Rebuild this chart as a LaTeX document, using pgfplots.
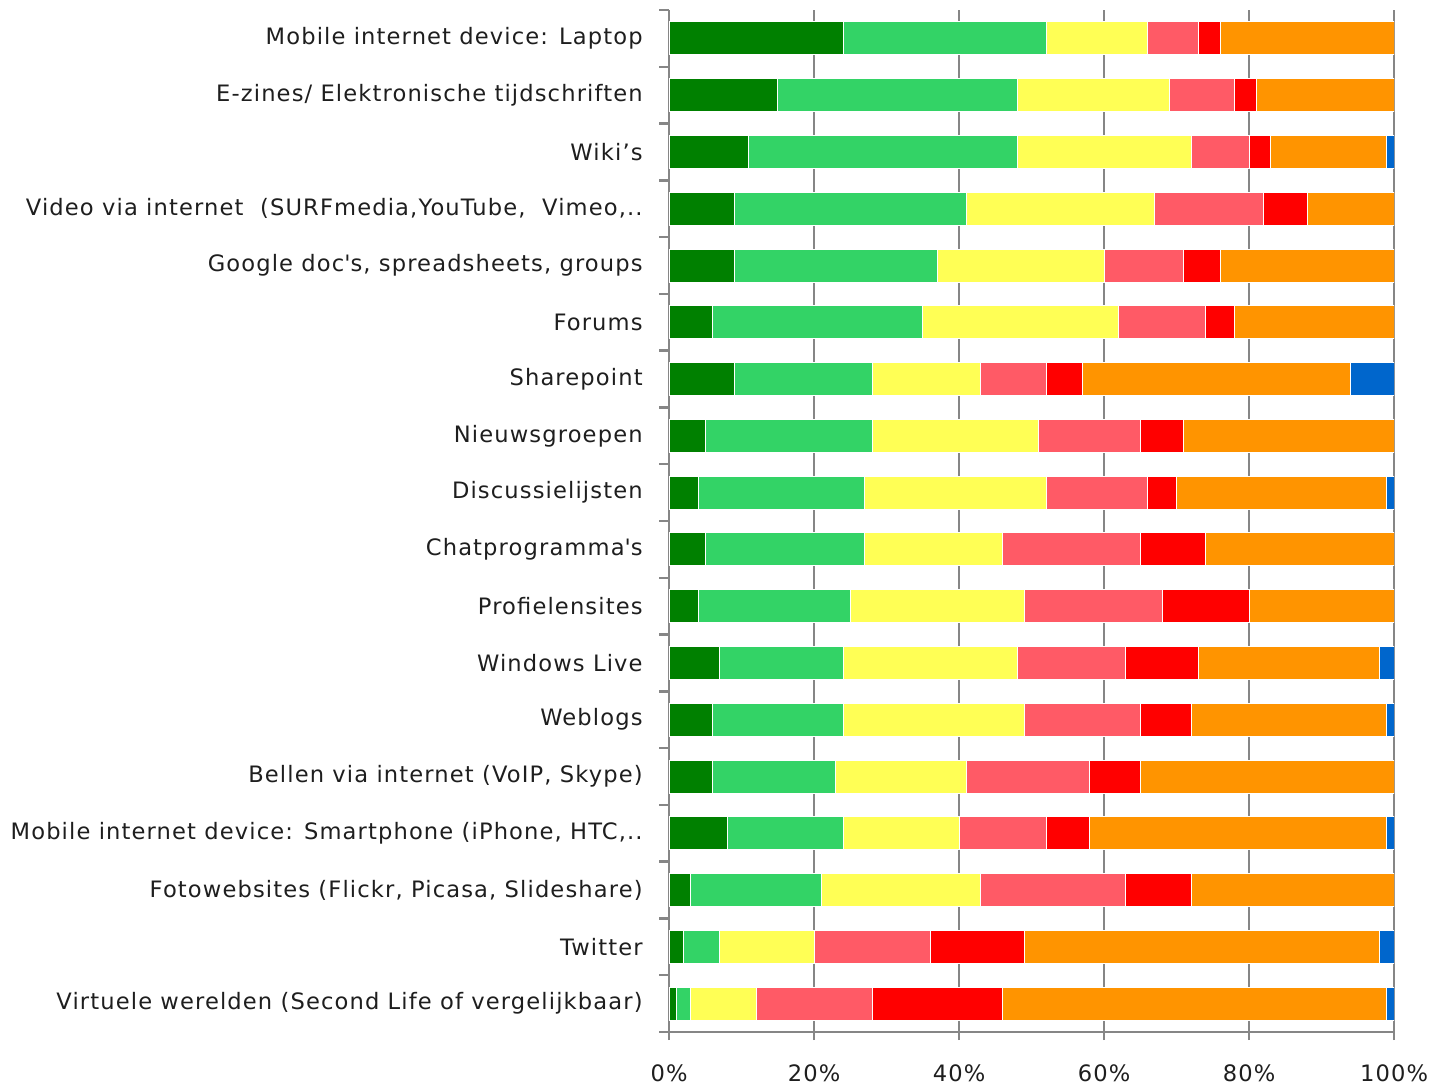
\documentclass[border=0pt]{standalone}
\usepackage{pgfplots}
\usepackage{pgfplotstable}
\usepackage{fontspec}
\setmainfont[LetterSpace=5]{DejaVu Sans}
\pgfplotsset{compat=1.18}
\definecolor{cdg}{RGB}{0,128,0}
\definecolor{cg}{RGB}{51,211,102}
\definecolor{cy}{RGB}{255,255,85}
\definecolor{cp}{RGB}{255,90,102}
\definecolor{cr}{RGB}{255,0,0}
\definecolor{co}{RGB}{255,148,0}
\definecolor{cb}{RGB}{0,102,204}
\definecolor{axg}{RGB}{134,134,134}
\definecolor{txt}{RGB}{30,30,30}
\pgfplotstableread{
pos dg g y p r o b
0 24 28 14 7 3 24 0
1 15 33 21 9 3 19 0
2 11 37 24 8 3 16 1
3 9 32 26 15 6 12 0
4 9 28 23 11 5 24 0
5 6 29 27 12 4 22 0
6 9 19 15 9 5 37 6
7 5 23 23 14 6 29 0
8 4 23 25 14 4 29 1
9 5 22 19 19 9 26 0
10 4 21 24 19 12 20 0
11 7 17 24 15 10 25 2
12 6 18 25 16 7 27 1
13 6 17 18 17 7 35 0
14 8 16 16 12 6 41 1
15 3 18 22 20 9 28 0
16 2 5 13 16 13 49 2
17 1 2 9 16 18 53 1
}\data
\begin{document}
\begin{tikzpicture}
\path (0,0) rectangle (719.5pt,543.5pt);
\begin{axis}[
  at={(334.5pt,27.5pt)}, anchor=south west,
  scale only axis, width=362.5pt, height=511pt,
  xbar stacked, bar width=16.5pt,
  xmin=0, xmax=100, ymin=-0.5, ymax=17.5, y dir=reverse,
  axis x line*=bottom, axis y line*=left,
  axis line style={axg, line width=1.2pt, -},
  xtick={0,20,...,100},
  xticklabel={\pgfmathprintnumber{\tick}\%},
  /pgf/number format/assume math mode=true,
  xmajorgrids, grid style={axg, line width=1.2pt},
  tick align=outside,
  major tick length=4pt, minor tick length=5pt,
  tick style={axg, line width=1.2pt},
  major y tick style={draw=none},
  ytick={0,...,17},
  minor ytick={-0.5,0.5,...,17.5},
  yticklabels={
    {Mobile internet device: Laptop},
    {E-zines/ Elektronische tijdschriften},
    {Wiki’s},
    {Video via internet\ \ (SURFmedia,YouTube,\ \ Vimeo,..\hspace{-8pt}},
    {Google doc\textquotesingle s, spreadsheets, groups},
    {Forums},
    {Sharepoint},
    {Nieuwsgroepen},
    {Discussielijsten},
    {Chatprogramma\textquotesingle s},
    {Profielensites},
    {Windows Live},
    {Weblogs},
    {Bellen via internet (VoIP, Skype)},
    {Mobile internet device: Smartphone (iPhone, HTC,..\hspace{-8pt}},
    {Fotowebsites (Flickr, Picasa, Slideshare)},
    {Twitter},
    {Virtuele werelden (Second Life of vergelijkbaar)}
  },
  every tick label/.append style={font=\fontsize{11.3}{13}\selectfont, text=txt},
  yticklabel style={anchor=east, inner sep=0pt, xshift=-9pt},
  xticklabel style={anchor=north, inner sep=0pt, yshift=-12pt},
  every axis plot/.append style={draw=white, line width=0.4pt},
]
\addplot[fill=cdg] table[x=dg, y=pos] {\data};
\addplot[fill=cg] table[x=g, y=pos] {\data};
\addplot[fill=cy] table[x=y, y=pos] {\data};
\addplot[fill=cp] table[x=p, y=pos] {\data};
\addplot[fill=cr] table[x=r, y=pos] {\data};
\addplot[fill=co] table[x=o, y=pos] {\data};
\addplot[fill=cb] table[x=b, y=pos] {\data};
\end{axis}
\end{tikzpicture}
\end{document}
